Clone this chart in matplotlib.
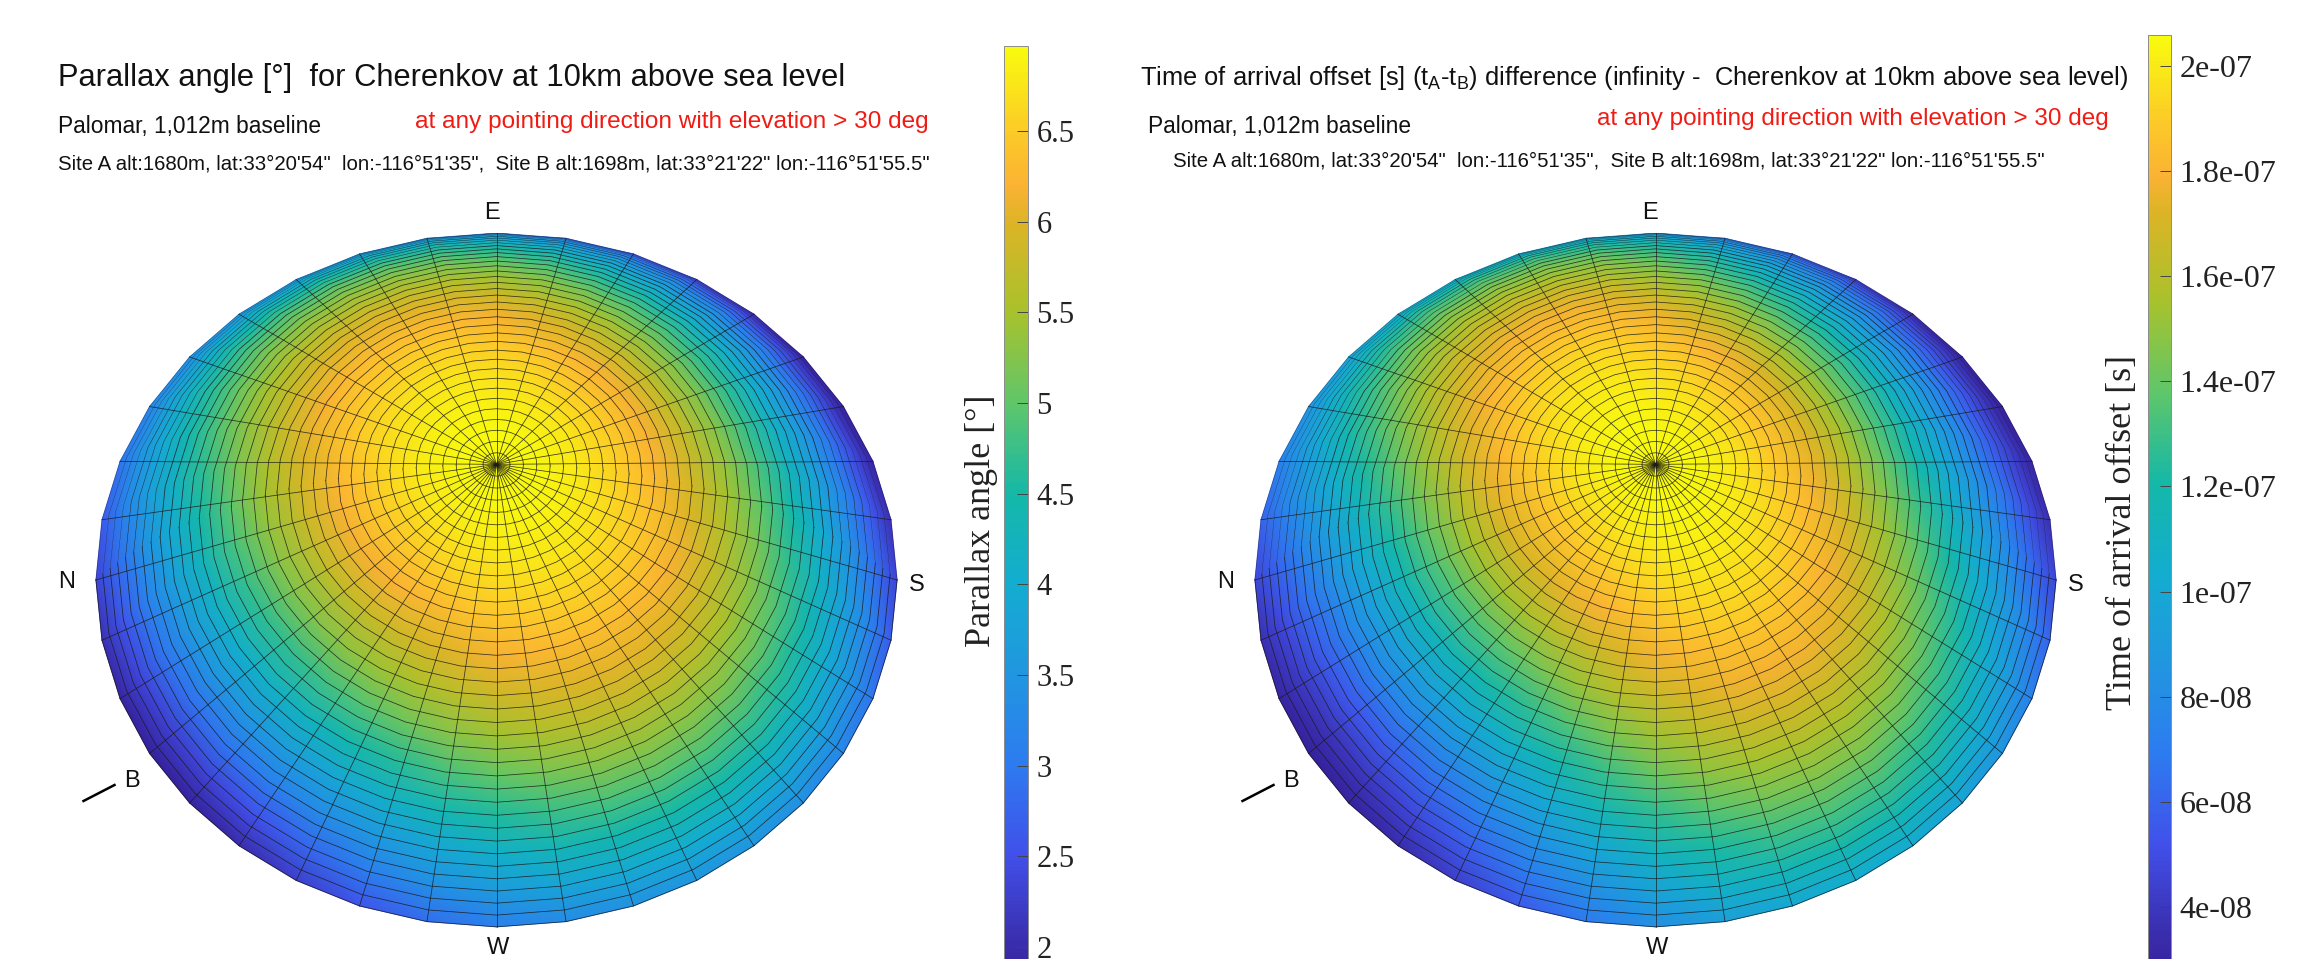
import matplotlib
matplotlib.use("Agg")
import matplotlib.pyplot as plt
import numpy as np
from matplotlib.colors import LinearSegmentedColormap, Normalize

W, H = 2313, 959
plt.rcParams["mathtext.default"] = "regular"

# colour nodes of the table below: elevation rows, bearing columns (repeats every 180 deg)
ELEV_NODES = [30, 35, 40, 45, 50, 55, 60, 65, 70, 75, 80, 85, 90]
AZ_NODES = [0, 10, 20, 30, 40, 50, 60, 70, 80, 90, 100, 110, 120, 130, 140, 150, 160, 170]

# parallax angle, degrees
PARALLAX = [
    [2.35, 2.65, 2.94, 3.17, 3.35, 3.46, 3.48, 3.43, 3.30, 3.11, 2.85, 2.56, 2.26, 1.99, 1.80, 1.74, 1.84, 2.06],
    [2.86, 3.16, 3.44, 3.68, 3.86, 3.97, 4.00, 3.94, 3.81, 3.61, 3.36, 3.07, 2.77, 2.52, 2.34, 2.29, 2.38, 2.59],
    [3.39, 3.67, 3.94, 4.17, 4.35, 4.45, 4.48, 4.43, 4.30, 4.10, 3.86, 3.58, 3.31, 3.08, 2.93, 2.88, 2.96, 3.14],
    [3.93, 4.18, 4.43, 4.64, 4.80, 4.90, 4.93, 4.88, 4.76, 4.58, 4.35, 4.11, 3.86, 3.66, 3.52, 3.49, 3.55, 3.71],
    [4.46, 4.68, 4.90, 5.08, 5.23, 5.31, 5.34, 5.30, 5.19, 5.03, 4.83, 4.61, 4.40, 4.23, 4.12, 4.09, 4.15, 4.28],
    [4.98, 5.16, 5.33, 5.49, 5.61, 5.69, 5.71, 5.67, 5.58, 5.45, 5.28, 5.10, 4.93, 4.79, 4.70, 4.68, 4.72, 4.83],
    [5.46, 5.60, 5.73, 5.86, 5.96, 6.02, 6.04, 6.01, 5.93, 5.83, 5.70, 5.55, 5.42, 5.32, 5.25, 5.23, 5.26, 5.34],
    [5.89, 5.99, 6.10, 6.18, 6.26, 6.30, 6.32, 6.29, 6.24, 6.16, 6.06, 5.96, 5.86, 5.79, 5.74, 5.72, 5.75, 5.81],
    [6.27, 6.33, 6.40, 6.46, 6.51, 6.54, 6.55, 6.54, 6.50, 6.45, 6.38, 6.31, 6.25, 6.20, 6.16, 6.16, 6.17, 6.21],
    [6.56, 6.60, 6.64, 6.68, 6.71, 6.73, 6.73, 6.73, 6.70, 6.67, 6.63, 6.59, 6.56, 6.52, 6.51, 6.50, 6.51, 6.54],
    [6.79, 6.80, 6.82, 6.84, 6.85, 6.86, 6.86, 6.86, 6.85, 6.84, 6.82, 6.80, 6.78, 6.77, 6.76, 6.76, 6.76, 6.77],
    [6.92, 6.93, 6.93, 6.94, 6.94, 6.94, 6.94, 6.94, 6.94, 6.94, 6.93, 6.93, 6.92, 6.92, 6.92, 6.92, 6.92, 6.92],
    [6.97] * 18,
]

# time of arrival offset, units of 1e-8 s
OFFSET = [
    [4.68, 5.96, 7.30, 8.53, 9.51, 10.12, 10.28, 9.98, 9.25, 8.18, 6.90, 5.56, 4.33, 3.35, 2.74, 2.58, 2.88, 3.61],
    [6.04, 7.36, 8.73, 9.99, 11.00, 11.63, 11.79, 11.48, 10.74, 9.64, 8.32, 6.95, 5.69, 4.68, 4.06, 3.89, 4.20, 4.95],
    [7.58, 8.87, 10.22, 11.46, 12.45, 13.06, 13.22, 12.92, 12.19, 11.11, 9.82, 8.47, 7.23, 6.25, 5.63, 5.47, 5.77, 6.51],
    [9.26, 10.47, 11.73, 12.89, 13.82, 14.39, 14.55, 14.26, 13.57, 12.56, 11.36, 10.09, 8.93, 8.01, 7.44, 7.28, 7.57, 8.25],
    [11.03, 12.11, 13.24, 14.28, 15.10, 15.62, 15.75, 15.50, 14.89, 13.98, 12.90, 11.77, 10.74, 9.91, 9.39, 9.26, 9.51, 10.13],
    [12.83, 13.75, 14.71, 15.60, 16.30, 16.74, 16.86, 16.64, 16.11, 15.35, 14.43, 13.46, 12.58, 11.87, 11.43, 11.32, 11.54, 12.06],
    [14.58, 15.32, 16.09, 16.80, 17.37, 17.72, 17.82, 17.64, 17.22, 16.60, 15.87, 15.09, 14.38, 13.82, 13.46, 13.37, 13.54, 13.96],
    [16.23, 16.78, 17.36, 17.89, 18.31, 18.58, 18.65, 18.52, 18.20, 17.74, 17.19, 16.61, 16.08, 15.65, 15.39, 15.32, 15.45, 15.77],
    [17.69, 18.07, 18.46, 18.82, 19.11, 19.29, 19.34, 19.25, 19.04, 18.72, 18.35, 17.95, 17.59, 17.31, 17.13, 17.08, 17.17, 17.38],
    [18.91, 19.13, 19.36, 19.58, 19.75, 19.85, 19.88, 19.83, 19.70, 19.52, 19.30, 19.06, 18.85, 18.68, 18.58, 18.55, 18.60, 18.73],
    [19.82, 19.93, 20.03, 20.13, 20.21, 20.25, 20.27, 20.25, 20.19, 20.11, 20.01, 19.91, 19.80, 19.72, 19.66, 19.66, 19.68, 19.74],
    [20.39, 20.41, 20.44, 20.46, 20.48, 20.50, 20.50, 20.49, 20.48, 20.46, 20.43, 20.40, 20.38, 20.36, 20.35, 20.34, 20.35, 20.37],
    [20.58] * 18,
]

PARALLAX_TICKS = [2, 2.5, 3, 3.5, 4, 4.5, 5, 5.5, 6, 6.5]
PARALLAX_LABELS = ["2", "2.5", "3", "3.5", "4", "4.5", "5", "5.5", "6", "6.5"]
OFFSET_TICKS = [4, 6, 8, 10, 12, 14, 16, 18, 20]
OFFSET_LABELS = ["4e-08", "6e-08", "8e-08", "1e-07", "1.2e-07", "1.4e-07", "1.6e-07", "1.8e-07", "2e-07"]

CMAP = LinearSegmentedColormap.from_list("bar", [
    (0.00, "#35209a"), (0.05, "#3a2dac"), (0.145, "#4150ea"), (0.24, "#2d7bf0"),
    (0.336, "#2196e0"), (0.432, "#13add0"), (0.527, "#14b8a8"), (0.623, "#5fc66a"),
    (0.72, "#a8c22c"), (0.814, "#dcb426"), (0.853, "#fbb234"), (0.91, "#fcca28"), (1.00, "#f8fb0e"),
])

VIEW_EL = np.radians(60)
RING_ELEV = np.linspace(30, 90, 37)
SPOKE_AZ = np.arange(0, 361, 10)


def project(az_deg, el_deg):
    # N to the left, E up, dome seen from 60 deg above the horizon
    az, el = np.radians(az_deg), np.radians(el_deg)
    x = -np.cos(el) * np.cos(az)
    y = np.cos(el) * np.sin(az) * np.sin(VIEW_EL) + np.sin(el) * np.cos(VIEW_EL)
    return x, y


def px_axes(fig, x0, y0, x1, y1):
    # rectangle given in image pixels, y going down
    return fig.add_axes([x0 / W, 1 - y1 / H, (x1 - x0) / W, (y1 - y0) / H])


def fit_text(fig, x, y, s, width, **kw):
    # text placed in pixels and scaled to the width it has in the picture
    t = fig.text(x / W, 1 - y / H, s, va="center", family="Liberation Sans", fontsize=15, **kw)
    box = t.get_window_extent(fig.canvas.get_renderer())
    t.set_fontsize(15 * width / box.width)
    return t


def draw_dome(fig, cx, table, norm):
    R, cy = 462.5, 695.6
    ax = px_axes(fig, cx - R, cy - R, cx + R, cy + R)
    ax.set_xlim(-1, 1)
    ax.set_ylim(-1, 1)
    ax.axis("off")

    az_mesh, el_mesh = np.meshgrid(np.arange(0, 361, 10), ELEV_NODES)
    t = np.array(table)
    values = np.hstack([t, t, t[:, :1]])
    x, y = project(az_mesh, el_mesh)
    ax.pcolormesh(x, y, values, cmap=CMAP, norm=norm, shading="gouraud", rasterized=True)

    far = SPOKE_AZ[SPOKE_AZ <= 180]
    near = SPOKE_AZ[SPOKE_AZ >= 180]
    for e in RING_ELEV[:-1]:
        # the far rings bunch up against the rim, keep them hairline there
        far_lw = 0.2 if e < 36 else 0.35 if e < 42 else 0.55
        ax.plot(*project(far, e), color="#1a1a1a", lw=far_lw, alpha=0.85, solid_joinstyle="round")
        ax.plot(*project(near, e), color="#1a1a1a", lw=0.55, alpha=0.85, solid_joinstyle="round")
    for a in SPOKE_AZ[:-1]:
        ax.plot(*project(a, np.array([30, 90])), color="#1a1a1a", lw=0.55, alpha=0.85)


def draw_bar(fig, x0, x1, top, bottom, norm, ticks, labels, ylabel, label_x, label_y, size):
    cax = px_axes(fig, x0, top, x1, bottom)
    sm = plt.cm.ScalarMappable(norm=norm, cmap=CMAP)
    cb = fig.colorbar(sm, cax=cax)
    cb.set_ticks(ticks, labels=labels)
    cb.outline.set_linewidth(0.7)
    cb.outline.set_edgecolor("#8c8c8c")
    cax.tick_params(direction="in", length=8, width=0.7, color="#444444", pad=6, labelsize=size,
                    labelcolor="#222222")
    for lab in cax.get_yticklabels():
        lab.set_family("Liberation Serif")
    fig.text(label_x / W, 1 - label_y / H, ylabel, rotation=90, ha="center", va="center",
             family="Liberation Serif", fontsize=26, color="#222222")


def compass(fig, cx, dy):
    for letter, x, y in [("E", cx - 5, 213), ("N", cx - 430, 582), ("S", cx + 420, 585), ("W", cx + 2, 948)]:
        fig.text(x / W, 1 - (y + dy) / H, letter, ha="center", va="center", family="Liberation Sans",
                 fontsize=17, color="#111111")
    fig.text((cx - 365) / W, 1 - (781 + dy) / H, "B", ha="center", va="center", family="Liberation Sans",
             fontsize=17, color="#111111")
    fig.add_artist(plt.Line2D([(cx - 413) / W, (cx - 382) / W], [1 - (801 + dy) / H, 1 - (785 + dy) / H],
                              color="black", lw=1.8))


def main():
    fig = plt.figure(figsize=(W / 100, H / 100), dpi=100)
    fig.canvas.draw()

    parallax_norm = Normalize(1.745, 6.97)
    offset_norm = Normalize(2.56, 20.58)

    draw_dome(fig, 496.5, PARALLAX, parallax_norm)
    draw_dome(fig, 1655.5, OFFSET, offset_norm)
    draw_bar(fig, 1004, 1028, 46, 993, parallax_norm, PARALLAX_TICKS, PARALLAX_LABELS,
             "Parallax angle [°]", 981, 521, 22)
    draw_bar(fig, 2148, 2171, 35, 983, offset_norm, OFFSET_TICKS, OFFSET_LABELS,
             "Time of arrival offset [s]", 2122, 533, 23)

    site = "Site A alt:1680m, lat:33°20'54\"  lon:-116°51'35\",  Site B alt:1698m, lat:33°21'22\" lon:-116°51'55.5\""
    red = "at any pointing direction with elevation > 30 deg"

    fit_text(fig, 58, 78, "Parallax angle [°]  for Cherenkov at 10km above sea level", 789, color="#111111")
    fit_text(fig, 58, 126, "Palomar, 1,012m baseline", 263, color="#111111")
    fit_text(fig, 415, 122, red, 516, color="#f01c14")
    fit_text(fig, 58, 164, site, 873, color="#111111")

    fit_text(fig, 1140, 78, "Time of arrival offset [s] (t$_{A}$-t$_{B}$) difference (infinity -  Cherenkov at 10km above sea level)",
             989, color="#111111")
    fit_text(fig, 1148, 127, "Palomar, 1,012m baseline", 263, color="#111111")
    fit_text(fig, 1597, 119, red, 515, color="#f01c14")
    fit_text(fig, 1173, 161, site, 874, color="#111111")

    compass(fig, 496.5, 0)
    compass(fig, 1655.5, 0)

    fig.savefig("out.png", dpi=100)


if __name__ == "__main__":
    main()
